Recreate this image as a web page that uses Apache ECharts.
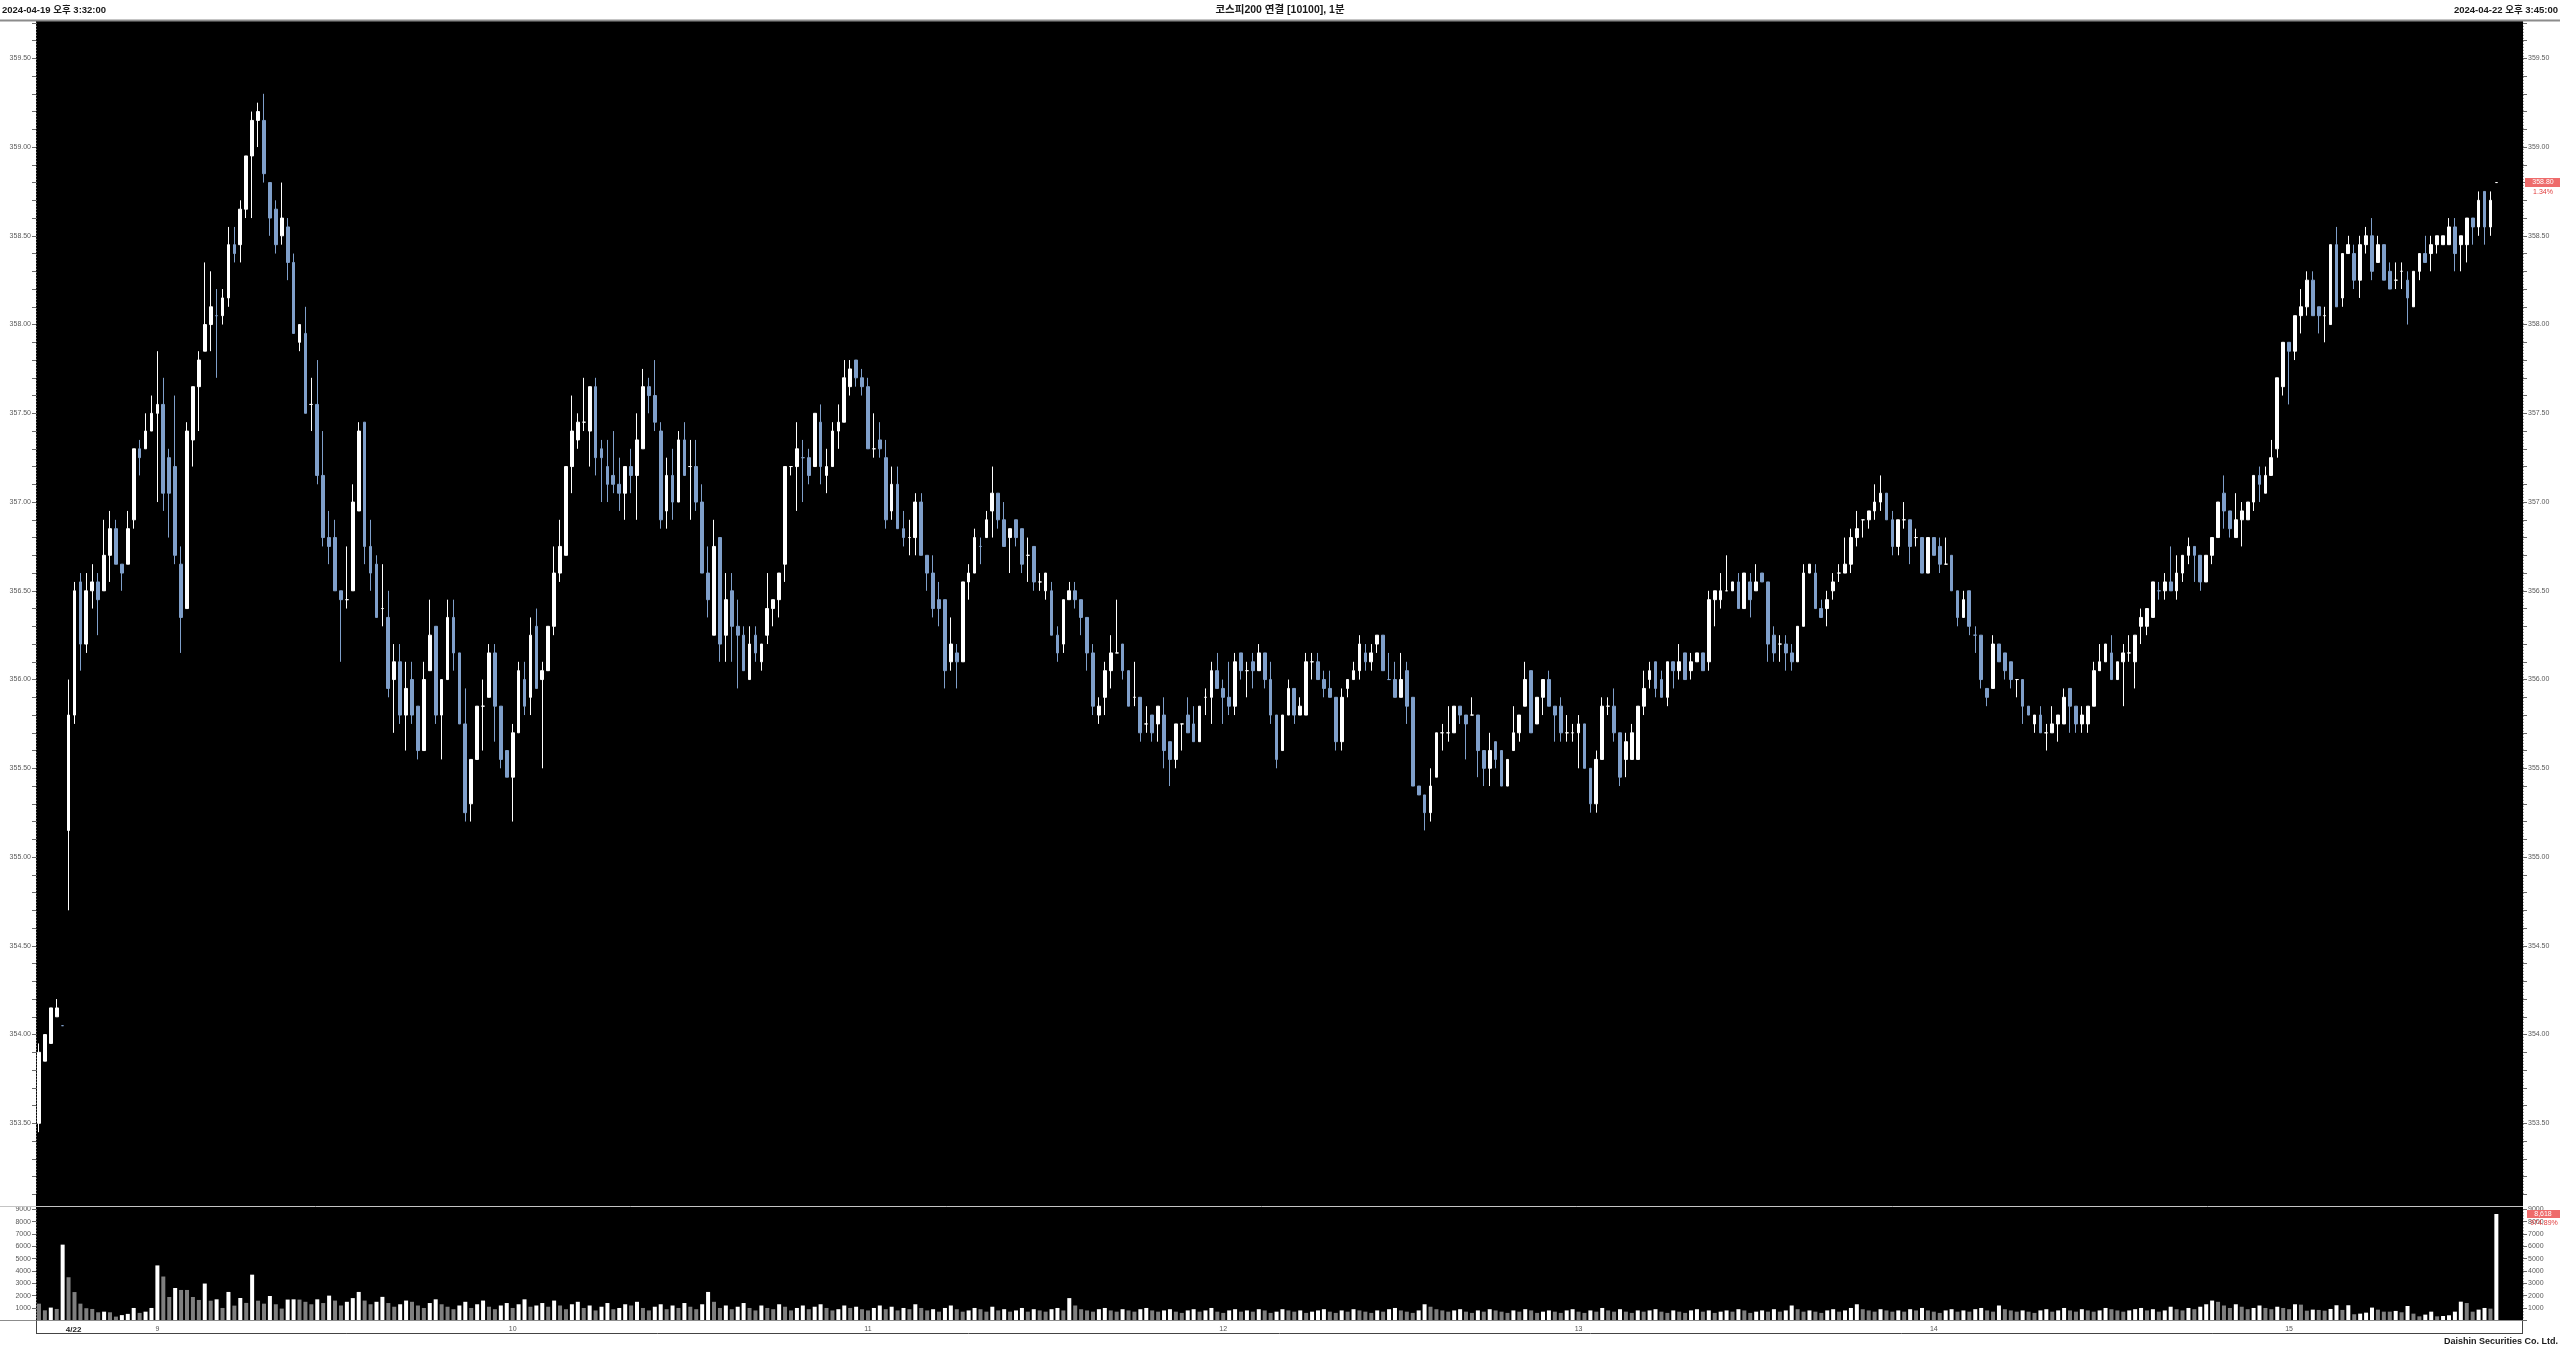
<!DOCTYPE html>
<html><head><meta charset="utf-8">
<script src="https://cdn.jsdelivr.net/npm/echarts@6/dist/echarts.min.js"></script>
<style>html,body{margin:0;padding:0;background:#fff;overflow:hidden}#c{width:2560px;height:1350px}</style>
</head><body><div id="c"></div>
<script>
// ---------------- texts ----------------
const titleLeft = '2024-04-19 오후 3:32:00';
const titleCenter = '코스피200 연결 [10100], 1분';
const titleRight = '2024-04-22 오후 3:45:00';
const footerText = 'Daishin Securities Co. Ltd.';
const dayLabel = '4/22';
const hourLabels = ['9', '10', '11', '12', '13', '14', '15'];
const lastPrice = 358.80, lastPriceChange = '1.34%';
const lastVolume = 8618, lastVolumeText = '8,618', lastVolumeChange = '974.89%';

// ---------------- times ----------------
const prevDayTimes = ['15:32', '15:33', '15:34', '15:35', '15:45'];
const dayStartTime = '08:45', dayRegularCount = 410, dayCloseTime = '15:45';
const emptySlots = 4;

// ---------------- prices [open, high, low, close] ----------------
const ohlcPrevDay = [
[353.5,353.95,353.45,353.9],[353.85,354,353.85,354],[353.95,354.15,353.95,354.15],[354.1,354.2,354.1,354.15],[354.05,354.05,354.05,354.05]
];
const ohlcDay = [
[355.15,356,354.7,355.8],[355.8,356.55,355.75,356.5],[356.55,356.6,356.05,356.2],[356.2,356.6,356.15,356.5],[356.5,356.65,356.4,356.55],
[356.55,356.6,356.25,356.45],[356.5,356.9,356.5,356.7],[356.7,356.95,356.55,356.85],[356.85,356.9,356.65,356.65],[356.65,356.65,356.5,356.6],
[356.65,356.95,356.65,356.85],[356.9,357.3,356.85,357.3],[357.3,357.35,357.15,357.25],[357.3,357.5,357.3,357.4],[357.4,357.6,357.4,357.5],
[357.5,357.85,357,357.55],[357.55,357.7,356.95,357.05],[357.25,357.3,356.8,357.05],[357.2,357.6,356.65,356.7],[356.65,356.75,356.15,356.35],
[356.4,357.45,356.4,357.4],[357.35,357.65,357.2,357.65],[357.65,357.85,357.4,357.8],[357.85,358.35,357.85,358],[358,358.3,357.85,358.1],
[358.05,358.2,357.7,358.05],[358.05,358.2,358,358.15],[358.15,358.55,358.1,358.45],[358.45,358.55,358.35,358.4],[358.45,358.7,358.35,358.65],
[358.65,358.95,358.6,358.95],[358.95,359.2,358.6,359.15],[359.15,359.25,359,359.2],[359.15,359.3,358.8,358.85],[358.8,358.8,358.5,358.6],
[358.65,358.7,358.4,358.45],[358.5,358.8,358.45,358.6],[358.55,358.6,358.25,358.35],[358.35,358.4,357.95,357.95],[357.9,358,357.85,358],
[357.95,358.1,357.5,357.5],[357.55,357.7,357.4,357.55],[357.55,357.8,357.1,357.15],[357.15,357.4,356.75,356.8],[356.8,356.95,356.65,356.75],
[356.8,356.9,356.5,356.5],[356.5,356.5,356.1,356.45],[356.45,356.75,356.4,356.45],[356.5,357.1,356.5,357],[356.95,357.45,356.95,357.4],
[357.45,357.45,356.65,356.75],[356.75,356.9,356.5,356.6],[356.65,356.7,356.35,356.35],[356.4,356.65,356.3,356.4],[356.35,356.5,355.9,355.95],
[356,356.2,355.7,356.1],[356.1,356.2,355.75,355.8],[355.8,356.1,355.6,355.95],[356,356.1,355.75,355.8],[355.85,355.85,355.55,355.6],
[355.6,356.1,355.6,356],[356.05,356.45,356.05,356.25],[356.3,356.3,355.75,355.8],[355.8,356,355.55,356],[356,356.45,356,356.35],
[356.35,356.45,356.05,356.15],[356.15,356.15,355.75,355.75],[355.75,355.95,355.2,355.25],[355.3,355.55,355.2,355.55],[355.55,355.85,355.55,355.85],
[355.85,356,355.6,355.85],[355.9,356.2,355.9,356.15],[356.15,356.2,355.65,355.85],[355.85,355.85,355.5,355.55],[355.6,355.6,355.45,355.45],
[355.45,355.75,355.2,355.7],[355.7,356.1,355.7,356.05],[356,356.1,355.8,355.85],[355.9,356.35,355.8,356.25],[356.3,356.4,355.95,355.95],
[356,356.1,355.5,356.05],[356.05,356.3,356.05,356.3],[356.3,356.75,356.25,356.6],[356.6,356.9,356.55,356.75],[356.7,357.2,356.7,357.2],
[357.2,357.6,357.05,357.4],[357.35,357.5,357.3,357.45],[357.45,357.7,357.4,357.45],[357.4,357.65,357.2,357.65],[357.65,357.7,357.15,357.25],
[357.3,357.35,357,357.25],[357.2,357.35,357,357.1],[357.15,357.4,357.05,357.1],[357.1,357.25,356.95,357.05],[357.05,357.2,356.9,357.2],
[357.2,357.3,357.05,357.15],[357.15,357.5,356.9,357.35],[357.3,357.75,357.3,357.65],[357.65,357.7,357.5,357.6],[357.6,357.8,357.4,357.45],
[357.4,357.45,356.85,356.9],[356.95,357.25,356.85,357.15],[357.15,357.3,356.9,357],[357,357.4,357,357.35],[357.35,357.45,357.15,357.15],
[357.2,357.35,356.9,357.2],[357.2,357.35,356.95,357],[357,357.1,356.6,356.6],[356.6,356.75,356.35,356.45],[356.25,356.9,356.25,356.75],
[356.8,356.8,356.1,356.2],[356.25,356.6,356.1,356.45],[356.5,356.6,356.1,356.3],[356.3,356.45,355.95,356.25],[356.25,356.3,356.05,356.05],
[356,356.3,356,356.2],[356.25,356.3,356.1,356.15],[356.1,356.2,356.05,356.2],[356.25,356.6,356.2,356.4],[356.4,356.45,356.3,356.45],
[356.45,356.6,356.35,356.6],[356.65,357.2,356.55,357.2],[357.2,357.2,357.15,357.2],[357.2,357.45,356.95,357.3],[357.25,357.35,357,357.25],
[357.25,357.3,357.1,357.15],[357.2,357.5,357.2,357.5],[357.45,357.55,357.1,357.2],[357.15,357.3,357.05,357.2],[357.2,357.45,357.2,357.4],
[357.4,357.55,357.3,357.45],[357.45,357.8,357.45,357.7],[357.65,357.8,357.6,357.75],[357.8,357.8,357.65,357.7],[357.7,357.75,357.6,357.65],
[357.65,357.7,357.3,357.3],[357.3,357.5,357.25,357.3],[357.35,357.45,357.25,357.3],[357.25,357.35,356.85,356.9],[356.95,357.2,356.9,357.1],
[357.1,357.2,356.85,356.85],[356.85,356.95,356.75,356.8],[356.8,356.9,356.7,356.8],[356.8,357.05,356.7,357],[357,357.05,356.7,356.7],
[356.7,356.7,356.5,356.6],[356.6,356.7,356.35,356.4],[356.45,356.55,356.3,356.4],[356.45,356.45,355.95,356.05],[356.1,356.35,356.05,356.2],
[356.15,356.2,355.95,356.1],[356.1,356.55,356.1,356.55],[356.55,356.65,356.45,356.6],[356.6,356.85,356.6,356.8],[356.75,356.8,356.65,356.75],
[356.8,356.95,356.8,356.9],[356.95,357.2,356.8,357.05],[357.05,357.05,356.85,356.9],[356.9,357,356.75,356.75],[356.8,356.85,356.6,356.85],
[356.9,356.9,356.75,356.8],[356.85,356.85,356.6,356.65],[356.7,356.8,356.55,356.7],[356.75,356.75,356.5,356.55],[356.55,356.6,356.5,356.55],
[356.5,356.6,356.45,356.6],[356.5,356.55,356.25,356.25],[356.25,356.3,356.1,356.15],[356.2,356.45,356.15,356.45],[356.45,356.55,356.45,356.5],
[356.5,356.55,356.4,356.45],[356.45,356.45,356.25,356.35],[356.35,356.35,356.05,356.15],[356.15,356.2,355.8,355.85],[355.8,355.9,355.75,355.85],
[355.9,356.1,355.8,356.05],[356.05,356.25,355.95,356.15],[356.15,356.45,356.15,356.15],[356.2,356.2,356,356.05],[356.05,356.05,355.85,355.85],
[355.9,356.1,355.85,355.9],[355.9,355.9,355.65,355.7],[355.75,355.85,355.7,355.75],[355.8,355.8,355.65,355.7],[355.75,355.85,355.65,355.85],
[355.8,355.9,355.5,355.6],[355.65,355.65,355.4,355.55],[355.55,355.75,355.5,355.75],[355.75,355.75,355.6,355.75],[355.8,355.9,355.7,355.7],
[355.75,355.85,355.65,355.65],[355.65,355.85,355.65,355.85],[355.9,355.95,355.8,355.9],[355.9,356.1,355.75,356.05],[356.05,356.15,355.95,355.95],
[355.95,356,355.75,355.9],[355.9,356.1,355.8,355.85],[355.85,356.15,355.8,356.1],[356.15,356.15,356,356.05],[356.05,356.1,355.9,356.05],
[356.1,356.15,355.95,356.05],[356.05,356.2,356.05,356.15],[356.15,356.15,355.95,356],[356,356.1,355.75,355.8],[355.8,355.8,355.5,355.55],
[355.6,355.8,355.6,355.8],[355.8,356,355.8,355.95],[355.95,355.95,355.75,355.8],[355.8,355.9,355.8,355.85],[355.8,356.15,355.8,356.1],
[356.1,356.15,356,356.1],[356.1,356.15,356,356],[356,356.05,355.9,355.95],[355.95,356.05,355.9,355.9],[355.9,355.9,355.6,355.65],
[355.65,355.95,355.6,355.9],[355.95,356,355.9,356],[356,356.1,356,356.05],[356.05,356.25,356,356.2],[356.15,356.2,356.05,356.1],
[356.1,356.2,356.05,356.15],[356.2,356.25,356.15,356.25],[356.25,356.25,356.05,356.05],[356,356.15,356,356],[356,356.1,355.9,355.9],
[355.9,356.15,355.9,356],[356.05,356.1,355.75,355.85],[355.9,355.9,355.4,355.4],[355.4,355.4,355.35,355.35],[355.35,355.35,355.15,355.25],
[355.25,355.5,355.2,355.4],[355.45,355.7,355.45,355.7],[355.7,355.75,355.6,355.7],[355.7,355.85,355.65,355.7],[355.7,355.85,355.7,355.85],
[355.85,355.85,355.75,355.8],[355.8,355.8,355.55,355.75],[355.8,355.9,355.8,355.8],[355.8,355.8,355.45,355.6],[355.6,355.6,355.4,355.5],
[355.5,355.7,355.4,355.6],[355.65,355.65,355.5,355.55],[355.6,355.6,355.4,355.4],[355.4,355.55,355.4,355.55],[355.6,355.85,355.6,355.7],
[355.7,355.8,355.65,355.8],[355.85,356.1,355.85,356],[356.05,356.05,355.7,355.7],[355.75,355.9,355.75,355.9],[355.9,356,355.8,356],
[356,356.05,355.85,355.85],[355.85,355.85,355.65,355.8],[355.85,355.9,355.65,355.7],[355.7,355.8,355.65,355.7],[355.7,355.75,355.65,355.7],
[355.7,355.8,355.5,355.75],[355.75,355.75,355.5,355.5],[355.5,355.5,355.25,355.3],[355.3,355.6,355.25,355.55],[355.55,355.9,355.55,355.85],
[355.85,355.9,355.8,355.85],[355.85,355.95,355.65,355.7],[355.7,355.7,355.4,355.45],[355.55,355.7,355.45,355.65],[355.55,355.75,355.55,355.7],
[355.55,355.85,355.55,355.85],[355.85,356.05,355.8,355.95],[356,356.1,355.95,356.05],[356.1,356.1,355.9,355.95],[356,356.05,355.9,355.9],
[355.9,356.1,355.85,356.1],[356.1,356.1,355.95,356.05],[356.05,356.2,356,356.1],[356.15,356.15,356,356],[356.05,356.15,356,356.1],
[356.1,356.15,356.1,356.15],[356.15,356.15,356.05,356.05],[356.1,356.5,356.05,356.45],[356.45,356.5,356.3,356.5],[356.45,356.6,356.4,356.5],
[356.5,356.7,356.5,356.5],[356.5,356.55,356.5,356.55],[356.55,356.6,356.4,356.4],[356.4,356.6,356.4,356.6],[356.55,356.6,356.35,356.45],
[356.5,356.65,356.5,356.55],[356.6,356.6,356.55,356.55],[356.55,356.55,356.1,356.2],[356.25,356.3,356.1,356.15],[356.2,356.25,356.1,356.2],
[356.2,356.25,356.05,356.15],[356.15,356.2,356.05,356.1],[356.1,356.3,356.1,356.3],[356.3,356.65,356.3,356.6],[356.6,356.65,356.6,356.65],
[356.6,356.65,356.4,356.4],[356.4,356.45,356.35,356.35],[356.4,356.5,356.3,356.45],[356.5,356.6,356.45,356.55],[356.6,356.65,356.55,356.6],
[356.6,356.8,356.6,356.65],[356.65,356.85,356.6,356.8],[356.8,356.95,356.75,356.85],[356.9,356.9,356.8,356.9],[356.9,356.95,356.85,356.95],
[356.95,357.1,356.9,357],[357,357.15,356.95,357.05],[357.05,357.05,356.9,356.9],[356.9,356.95,356.7,356.75],[356.75,356.9,356.7,356.9],
[356.9,357,356.85,356.9],[356.9,356.9,356.65,356.75],[356.8,356.85,356.75,356.8],[356.8,356.8,356.6,356.6],[356.6,356.8,356.6,356.8],
[356.8,356.8,356.7,356.7],[356.75,356.8,356.6,356.65],[356.65,356.8,356.65,356.65],[356.7,356.7,356.5,356.5],[356.5,356.5,356.3,356.35],
[356.35,356.5,356.35,356.45],[356.5,356.5,356.25,356.3],[356.25,356.3,356.15,356.25],[356.25,356.25,355.95,356],[355.95,355.95,355.85,355.9],
[355.95,356.25,355.95,356.2],[356.2,356.2,356.1,356.1],[356.15,356.15,356,356.05],[356.1,356.1,355.95,356],[356,356,355.9,356],
[356,356,355.75,355.85],[355.85,355.85,355.8,355.8],[355.75,355.8,355.7,355.8],[355.8,355.85,355.7,355.7],[355.7,355.75,355.6,355.7],
[355.7,355.85,355.7,355.75],[355.75,355.8,355.65,355.8],[355.75,355.95,355.75,355.9],[355.95,355.95,355.7,355.85],[355.85,355.85,355.7,355.75],
[355.75,355.85,355.7,355.8],[355.75,355.85,355.7,355.85],[355.85,356.1,355.85,356.05],[356.05,356.2,356.05,356.1],[356.1,356.2,356.1,356.2],
[356.15,356.25,356,356],[356,356.1,356,356.1],[356.1,356.2,355.85,356.15],[356.15,356.25,356.1,356.15],[356.1,356.25,355.95,356.25],
[356.3,356.4,356.2,356.35],[356.3,356.4,356.25,356.4],[356.35,356.55,356.35,356.55],[356.5,356.55,356.45,356.5],[356.5,356.6,356.45,356.55],
[356.55,356.75,356.5,356.5],[356.5,356.7,356.45,356.6],[356.6,356.7,356.55,356.7],[356.7,356.8,356.65,356.75],[356.75,356.75,356.55,356.7],
[356.7,356.7,356.5,356.55],[356.55,356.7,356.55,356.7],[356.7,356.8,356.65,356.8],[356.8,357,356.8,357],[357.05,357.15,356.85,356.95],
[356.95,356.95,356.8,356.85],[356.8,357.05,356.8,356.9],[356.9,357,356.75,356.95],[356.9,357,356.9,357],[357,357.15,356.95,357.15],
[357.15,357.2,357,357.1],[357.05,357.2,357.05,357.15],[357.15,357.35,357.15,357.25],[357.3,357.7,357.25,357.7],[357.65,357.9,357.6,357.9],
[357.9,357.9,357.55,357.85],[357.85,358.05,357.8,358.05],[358.05,358.2,357.95,358.1],[358.1,358.3,358.05,358.25],[358.25,358.3,358.05,358.05],
[358.1,358.1,357.95,358.05],[358.05,358.1,357.9,358.05],[358,358.45,358,358.45],[358.45,358.55,358.1,358.1],[358.15,358.4,358.1,358.4],
[358.4,358.5,358.4,358.45],[358.4,358.45,358.2,358.25],[358.25,358.5,358.15,358.45],[358.45,358.55,358.4,358.5],[358.5,358.6,358.25,358.3],
[358.35,358.5,358.35,358.45],[358.45,358.45,358.25,358.25],[358.3,358.35,358.2,358.2],[358.25,358.35,358.2,358.25],[358.3,358.35,358.2,358.3],
[358.25,358.3,358,358.15],[358.1,358.3,358.1,358.3],[358.3,358.4,358.25,358.4],[358.4,358.5,358.35,358.35],[358.4,358.5,358.3,358.45],
[358.45,358.5,358.4,358.5],[358.45,358.5,358.45,358.5],[358.45,358.6,358.45,358.55],[358.55,358.6,358.3,358.4],[358.45,358.5,358.3,358.5],
[358.45,358.6,358.35,358.6],[358.6,358.6,358.45,358.55],[358.55,358.75,358.5,358.7],[358.75,358.75,358.45,358.55],[358.55,358.75,358.5,358.7],
[358.8,358.8,358.8,358.8]
];

// ---------------- volumes (contracts) ----------------
const volumesPrevDay = [1350, 810, 1030, 920, 6135];
const volumesDay = [
3490,2290,1350,980,920,650,700,650,300,420,520,1000,600,700,1000,4450,3550,1890,2620,2460,2460,1890,1650,2980,1590,1700,1000,2300,1190,1810,1410,3700,1590,1350,1970,1300,950,1680,1700,1680,
1500,1300,1700,1400,2000,1600,1200,1500,1800,2300,
1600,1300,1500,1900,1400,1100,1300,1600,1500,1200,
1000,1400,1700,1300,1100,900,1200,1500,1000,1300,
1600,1100,900,1200,1400,1000,1300,1700,1100,1200,
1400,1100,1600,1200,900,1300,1500,1000,1200,800,
1100,1400,900,1000,1300,1200,1500,1000,800,1100,
1300,900,1200,1000,1400,1100,900,1300,2300,1500,
1000,1200,900,1100,1400,1000,800,1200,1000,900,
1300,1100,800,1000,1200,900,1100,1300,1000,800,
900,1200,1000,1100,900,800,1000,1200,900,1100,
800,1000,900,1300,1000,800,900,700,1000,1200,
900,700,800,1000,900,700,1100,800,900,700,
800,1000,700,900,800,700,900,1000,800,1800,
1200,900,800,700,900,1000,800,700,900,800,
700,900,1000,800,700,800,900,700,600,800,
900,700,800,1000,700,600,800,900,700,800,
700,900,800,600,700,900,800,700,800,600,
700,800,900,700,600,800,700,900,800,700,
600,800,700,900,1000,800,700,600,800,1300,
1100,900,800,700,800,900,700,600,800,700,
900,800,700,600,800,700,900,800,600,700,
800,700,600,800,900,700,600,800,700,1000,
800,700,900,700,600,800,700,800,900,700,
600,800,700,600,800,900,700,800,600,700,
800,700,900,800,600,700,800,700,900,700,
800,1200,900,700,800,700,600,800,900,700,
800,1000,1300,900,800,700,900,800,700,800,
700,900,800,1000,800,700,600,800,900,700,
800,700,900,1000,800,700,1200,900,800,700,
800,700,600,800,900,700,800,1000,800,700,
900,800,700,800,1000,900,800,700,800,900,
1000,800,900,700,800,1100,900,800,1000,900,
1100,1300,1600,1500,1200,1000,1300,1100,900,1000,
1200,1000,900,1100,1000,900,1300,
1270,780,865,840,780,920,1220,840,1220,490,540,620,1030,865,700,700,760,650,1160,540,320,460,700,320,350,405,700,1510,1400,700,865,1000,945,8618
];

// ---------------- build categories ----------------
function pad2(n) { return (n < 10 ? '0' : '') + n; }
const categories = [];
prevDayTimes.forEach(t => categories.push('04-19 ' + t));
const dayStartIndex = categories.length;
let m0 = parseInt(dayStartTime) * 60 + parseInt(dayStartTime.slice(3));
for (let k = 0; k < dayRegularCount; k++) {
  const m = m0 + k;
  categories.push('04-22 ' + pad2(Math.floor(m / 60)) + ':' + pad2(m % 60));
}
categories.push('04-22 ' + dayCloseTime);
for (let k = 0; k < emptySlots; k++) categories.push('empty' + k);

const labelMap = {};
labelMap[dayStartIndex] = dayLabel;
hourLabels.forEach(h => {
  const idx = categories.indexOf('04-22 ' + pad2(parseInt(h)) + ':00');
  if (idx >= 0) labelMap[idx] = h;
});

const ohlcAll = ohlcPrevDay.concat(ohlcDay);
const candleData = ohlcAll.map(r => [r[0], r[3], r[2], r[1]]);
const volAll = volumesPrevDay.concat(volumesDay);
const volData = volAll.map((v, i) => ({
  value: v,
  itemStyle: { color: (i > 0 && v > volAll[i - 1]) ? '#ffffff' : '#7f7f7f' }
}));

// ---------------- chart ----------------
const FONT = '"Liberation Sans", "Noto Sans CJK KR", sans-serif';
const UP = '#ffffff', DOWN = '#7f9fca';
const chart = echarts.init(document.getElementById('c'), null, { renderer: 'canvas' });

const priceAxisCommon = {
  type: 'value', gridIndex: 0, min: 353.1, max: 359.7, interval: 0.1, scale: true,
  axisLine: { show: false },
  axisTick: { show: true, length: 4, lineStyle: { color: '#6a6a6a', width: 1 } },
  splitLine: { show: false },
  axisLabel: {
    fontSize: 7, fontFamily: FONT, color: '#5a5a5a', margin: 5,
    formatter: v => (Math.abs(v * 2 - Math.round(v * 2)) < 1e-6) ? v.toFixed(2) : ''
  }
};
const volAxisCommon = {
  type: 'value', gridIndex: 1, min: 0, max: 9000, interval: 1000,
  axisLine: { show: false },
  axisTick: { show: true, length: 4, lineStyle: { color: '#6a6a6a', width: 1 } },
  splitLine: { show: false },
  axisLabel: { fontSize: 7, fontFamily: FONT, color: '#5a5a5a', margin: 5, formatter: v => v === 0 ? '' : String(v) }
};
const daySplit = { show: true, interval: (i) => i === dayStartIndex, lineStyle: { color: '#8a8a8a', width: 1, type: [1, 2] } };

chart.setOption({
  animation: false,
  backgroundColor: '#ffffff',
  grid: [
    { left: 36, width: 2487, top: 22.8, height: 1171.5 },
    { left: 36, width: 2487, top: 1209.3, height: 111 }
  ],
  xAxis: [
    { type: 'category', gridIndex: 0, data: categories, boundaryGap: true,
      axisLine: { show: false }, axisTick: { show: false }, axisLabel: { show: false }, splitLine: daySplit },
    { type: 'category', gridIndex: 1, data: categories, boundaryGap: true,
      axisLine: { show: false }, axisTick: { show: false }, splitLine: daySplit,
      axisLabel: {
        show: true, margin: 5, fontSize: 7, fontFamily: FONT, color: '#555555',
        interval: (i) => labelMap[i] !== undefined,
        formatter: (v, i) => {
          const idx = categories.indexOf(v);
          const t = labelMap[idx];
          if (t === undefined) return '';
          return idx === dayStartIndex ? '{d|' + t + '}' : t;
        },
        rich: { d: { fontSize: 8, fontWeight: 'bold', color: '#222222', fontFamily: FONT, padding: [0, 0, 0, 10] } }
      } }
  ],
  yAxis: [
    Object.assign({}, priceAxisCommon, { position: 'left' }),
    Object.assign({}, priceAxisCommon, { position: 'right' }),
    Object.assign({}, volAxisCommon, { position: 'left' }),
    Object.assign({}, volAxisCommon, { position: 'right' })
  ],
  series: [
    { type: 'candlestick', xAxisIndex: 0, yAxisIndex: 0, data: candleData, barWidth: 3.2,
      itemStyle: { color: UP, color0: DOWN, borderColor: UP, borderColor0: DOWN, borderWidth: 1 } },
    { type: 'bar', xAxisIndex: 1, yAxisIndex: 2, data: volData, barWidth: 4 }
  ]
});

// overlay decorations positioned through the chart's own scales
const yLast = chart.convertToPixel({ yAxisIndex: 0 }, lastPrice);
const yVol = chart.convertToPixel({ yAxisIndex: 2 }, lastVolume);
function txt(text, x, y, align, font, fill) {
  return { type: 'text', z: 20, style: { text, x, y, align, textAlign: align, verticalAlign: 'middle', textVerticalAlign: 'middle', font, fill } };
}
function line(x1, y1, x2, y2, stroke, w) {
  return { type: 'line', z: 15, shape: { x1, y1, x2, y2 }, style: { stroke, lineWidth: w } };
}
chart.setOption({
  graphic: [
    { type: 'rect', z: -5, shape: { x: 36, y: 21, width: 2487, height: 1299.5 }, style: { fill: '#000000' } },
    line(0, 20.5, 2560, 20.5, '#8c8c8c', 2),
    line(0, 1206.5, 2523, 1206.5, '#c4c4c4', 1),
    line(0, 1320.5, 2523, 1320.5, '#8c8c8c', 1),
    line(36.5, 1320.5, 36.5, 1333.5, '#444444', 1),
    line(2522.5, 1320.5, 2522.5, 1333.5, '#444444', 1),
    line(36, 1333.5, 2523, 1333.5, '#444444', 1),
    txt(titleLeft, 2, 10, 'left', 'bold 9.5px ' + FONT, '#1a1a1a'),
    txt(titleCenter, 1280, 10, 'center', 'bold 10.5px ' + FONT, '#1a1a1a'),
    txt(titleRight, 2558, 10, 'right', 'bold 9.5px ' + FONT, '#1a1a1a'),
    txt(footerText, 2558, 1342, 'right', 'bold 9px ' + FONT, '#1a1a1a'),
    { type: 'rect', z: 18, shape: { x: 2525, y: yLast - 4.5, width: 35, height: 9 }, style: { fill: '#ee6b6b' } },
    txt(lastPrice.toFixed(2), 2543, yLast, 'center', '7px ' + FONT, '#ffffff'),
    txt(lastPriceChange, 2543, yLast + 9.5, 'center', '7px ' + FONT, '#e03a3a'),
    { type: 'rect', z: 18, shape: { x: 2527, y: yVol - 4, width: 33, height: 8 }, style: { fill: '#ee6b6b' } },
    txt(lastVolumeText, 2543, yVol, 'center', '7px ' + FONT, '#ffffff'),
    txt(lastVolumeChange, 2544, yVol + 9, 'center', '7px ' + FONT, '#e03a3a')
  ]
});
</script></body></html>
